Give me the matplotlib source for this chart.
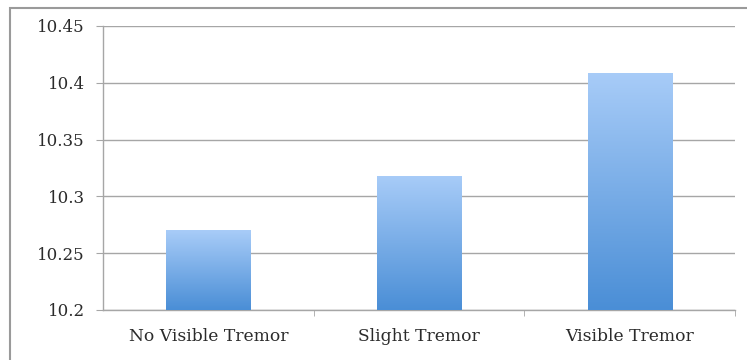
import numpy as np
import matplotlib.pyplot as plt
from matplotlib.patches import Rectangle
from matplotlib.colors import LinearSegmentedColormap

categories = ['No Visible Tremor', 'Slight Tremor', 'Visible Tremor']
values = [10.270, 10.318, 10.409]
yticks = [10.2, 10.25, 10.3, 10.35, 10.4, 10.45]
ytick_labels = ['10.2', '10.25', '10.3', '10.35', '10.4', '10.45']

GRID_COLOR = '#a6a6a6'
TEXT_COLOR = '#2b2b2b'
plt.rcParams['font.family'] = ['DejaVu Serif', 'Liberation Serif']

fig = plt.figure(figsize=(7.47, 3.6), dpi=100)
ax = fig.add_axes([103 / 747, 1 - 310 / 360, 632 / 747, 284 / 360])

# outer frame of the chart, runs off right and bottom edges
fig.patches.append(Rectangle((10 / 747, -0.05), 1.0, 1 - 8 / 360 + 0.05,
                             transform=fig.transFigure, fill=False,
                             edgecolor='#9a9a9a', linewidth=1.5))

x = np.arange(len(categories))
bars = ax.bar(x, [v - yticks[0] for v in values], bottom=yticks[0],
              width=0.4, color='none', edgecolor='none', zorder=3)

# vertical gradient inside each bar
cmap = LinearSegmentedColormap.from_list('bluegrad', ['#4a8ed6', '#a8ccf8'])
grad = np.linspace(0, 1, 256).reshape(-1, 1)
for b in bars:
    x0, y0 = b.get_x(), b.get_y()
    im = ax.imshow(grad, cmap=cmap, origin='lower', aspect='auto',
                   extent=[x0, x0 + b.get_width(), y0, y0 + b.get_height()],
                   zorder=3)
    im.set_clip_path(b)

ax.set_xlim(-0.5, len(categories) - 0.5)
ax.set_ylim(yticks[0], yticks[-1])
ax.set_yticks(yticks)
ax.set_yticklabels(ytick_labels)
ax.yaxis.grid(True, color=GRID_COLOR, linewidth=1.0, zorder=0)
ax.set_axisbelow(True)

ax.set_xticks(x)
ax.set_xticklabels(categories)
ax.set_xticks(np.arange(len(categories)) + 0.5, minor=True)
ax.tick_params(axis='x', which='major', length=0, pad=13,
               labelsize=12.3, labelcolor=TEXT_COLOR)
ax.tick_params(axis='x', which='minor', length=4, color=GRID_COLOR,
               direction='out')
ax.tick_params(axis='y', length=5, color=GRID_COLOR, pad=8,
               labelsize=12, labelcolor=TEXT_COLOR)

for side in ['top', 'right']:
    ax.spines[side].set_visible(False)
for side in ['left', 'bottom']:
    ax.spines[side].set_color(GRID_COLOR)
    ax.spines[side].set_linewidth(1.0)

fig.savefig('out.png', dpi=100)
